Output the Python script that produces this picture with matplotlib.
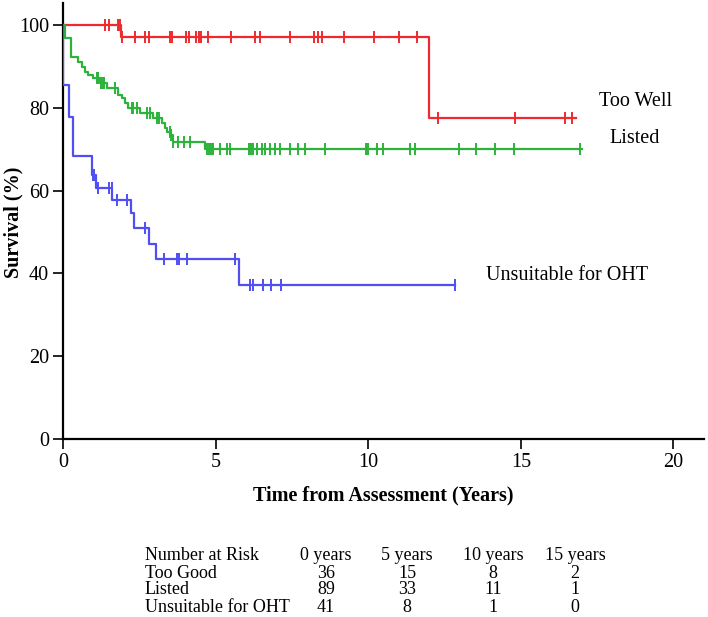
import numpy as np
import matplotlib
matplotlib.use("Agg")
import matplotlib.pyplot as plt

plt.rcParams["font.family"] = ["Liberation Serif", "DejaVu Serif"]

# ---- data ----
too_well_t = [0, 1.91, 12.0]
too_well_s = [100, 97.2, 77.5]
too_well_end = 16.8
too_well_cens = [1.39, 1.5, 1.8, 1.87, 1.94, 2.36, 2.70, 2.81, 3.52, 3.57, 4.04, 4.12,
                 4.35, 4.45, 4.53, 4.76, 5.50, 6.28, 6.46, 7.45, 8.21, 8.35, 8.5, 9.2,
                 10.2, 11.0, 11.6, 12.27, 14.82, 16.46, 16.68]

listed_t = [0, 0.07, 0.27, 0.5, 0.61, 0.72, 0.83, 0.99, 1.2, 1.43, 1.81, 1.92, 2.03,
            2.14, 2.52, 2.96, 3.24, 3.34, 3.42, 3.51, 3.60, 4.66]
listed_s = [100, 96.8, 92.3, 91.1, 89.9, 88.7, 87.9, 87.1, 86.0, 84.7, 83.1, 82.3, 81.1,
            79.9, 78.7, 77.5, 76.3, 75.0, 74.2, 73.4, 71.8, 70.0]
listed_end = 17.0
listed_cens = [1.1, 1.15, 1.25, 1.3, 1.35, 1.7, 2.25, 2.3, 2.42, 2.76, 2.85, 3.09, 3.16,
               3.5, 3.55, 3.62, 3.78, 3.95, 4.16, 4.71, 4.77, 4.82, 4.88, 4.93, 5.15,
               5.37, 5.48, 6.08, 6.15, 6.22, 6.35, 6.51, 6.62, 6.77, 6.95, 7.11, 7.44,
               7.70, 7.93, 8.59, 9.93, 9.99, 10.28, 10.47, 11.36, 11.54, 12.96, 13.54,
               14.16, 14.76, 16.95]

unsuit_t = [0, 0.01, 0.2, 0.34, 0.95, 1.08, 1.62, 2.22, 2.31, 2.83, 3.05, 5.78]
unsuit_s = [100, 85.5, 77.8, 68.4, 63.8, 60.6, 57.7, 54.5, 50.9, 47.1, 43.5, 37.3]
unsuit_end = 12.85
unsuit_cens = [0.98, 1.02, 1.16, 1.52, 1.6, 1.78, 2.09, 2.69, 3.31, 3.73, 3.81, 4.06,
               5.64, 6.11, 6.22, 6.55, 6.81, 7.14, 12.85]

groups = ["Too Good", "Listed", "Unsuitable for OHT"]
risk_cols = ["0 years", "5 years", "10 years", "15 years"]
at_risk = [[36, 15, 8, 2],
           [89, 33, 11, 1],
           [41, 8, 1, 0]]

W, H = 708, 617
fig = plt.figure(figsize=(W / 100, H / 100), dpi=100)
ax = fig.add_axes([63 / W, 1 - 439 / H, (704 - 63) / W, 436 / H])


def km(t, s, end, cens, color):
    t = np.asarray(t)
    s = np.asarray(s)
    tt = np.append(t, end)
    ss = np.append(s, s[-1])
    ax.step(tt, ss, where="post", color=color, lw=1.6, zorder=3)
    c = np.asarray(cens)
    cy = s[np.searchsorted(t, c, side="right") - 1]
    ax.plot(c, cy, ls="none", marker="|", ms=8, mew=1.4, color=color, zorder=4)


km(too_well_t, too_well_s, too_well_end, too_well_cens, "#ee2a2f")
km(listed_t, listed_s, listed_end, listed_cens, "#2db23b")
km(unsuit_t, unsuit_s, unsuit_end, unsuit_cens, "#4f4ff2")

ax.set_xlim(0, 21.0)
ax.set_ylim(0, 105.3)
ax.set_xticks([0, 5, 10, 15, 20])
ax.set_yticks([0, 20, 40, 60, 80, 100])
ax.spines["top"].set_visible(False)
ax.spines["right"].set_visible(False)
for sp in ("left", "bottom"):
    ax.spines[sp].set_linewidth(1.6)
ax.tick_params(direction="out", length=7, width=1.2, labelsize=14.5, pad=3)

ax.text(17.55, 81.5, "Too Well", fontsize=14.5, va="center")
ax.text(17.9, 72.5, "Listed", fontsize=14.5, va="center")
ax.text(13.85, 39.6, "Unsuitable for OHT", fontsize=14.5, va="center")

fig.text(13 / W, 1 - 222 / H, "Survival (%)", rotation=90, fontsize=14.5,
         fontweight="bold", ha="center", va="center")
fig.text(383 / W, 1 - 495 / H, "Time from Assessment (Years)", fontsize=14.5,
         fontweight="bold", ha="center", va="center")

# number at risk table
row_y = [556, 573, 590, 607]
col_x = [326, 407, 493, 575]
lab_x = 145
fig.text(lab_x / W, 1 - row_y[0] / H, "Number at Risk", fontsize=13, va="center")
for cx, name in zip(col_x, risk_cols):
    fig.text(cx / W, 1 - row_y[0] / H, name, fontsize=13, va="center", ha="center")
for i, g in enumerate(groups):
    y = 1 - row_y[i + 1] / H
    fig.text(lab_x / W, y, g, fontsize=13, va="center")
    for cx, v in zip(col_x, at_risk[i]):
        fig.text(cx / W, y, str(v), fontsize=13, va="center", ha="center")

fig.savefig("out.png", dpi=100)
